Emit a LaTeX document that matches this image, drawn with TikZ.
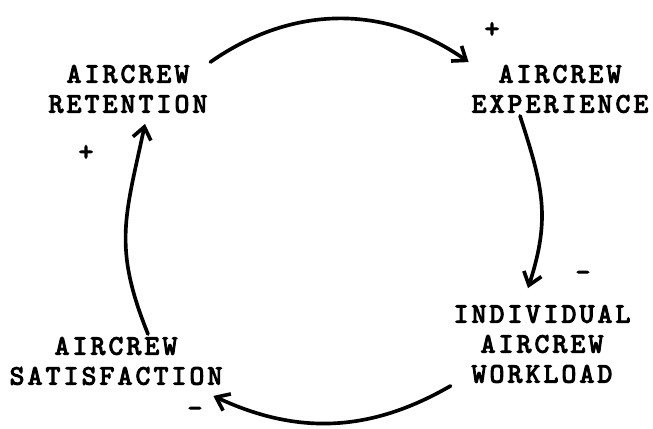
\documentclass[tikz,border=0pt]{standalone}
\usepackage{fontspec}
\setmonofont{lmmono10-regular.otf}[LetterSpace=11.8,FakeBold=4]
\usepackage{tikz}
\usetikzlibrary{arrows.meta,positioning,calc}
\tikzset{
  factor/.style={align=center,inner sep=2pt,font=\ttfamily\fontsize{19.9}{21.3}\selectfont},
  polarity/.style={inner sep=0pt,font=\ttfamily\fontsize{19.9}{21.3}\selectfont},
  link/.style={-{Straight Barb[length=3mm,width=4.6mm]},line width=2.6pt,line cap=round}
}

\begin{document}
\begin{tikzpicture}
    \useasboundingbox (0,0) rectangle (16.325,10.7);

    \node[factor] (ret) at (3.2,8.475) {AIRCREW\\RETENTION};
    \node[factor] (exp) at (14.0,8.475) {AIRCREW\\EXPERIENCE};
    \node[factor] (work) at (13.55,2.1) {INDIVIDUAL\\AIRCREW\\WORKLOAD};
    \node[factor] (sat) at (2.9,1.675) {AIRCREW\\SATISFACTION};

    \node[polarity] (p1) at (12.3,9.95) {+};
    \node[polarity] (p2) at (2.15,6.875) {+};
    \node[polarity] (m1) at (14.575,3.8) {-};
    \node[polarity] (m2) at (4.875,0.4) {-};

    \draw[link] (ret.north east) to[out=35,in=145] (exp.north west);
    \draw[link] ([xshift=-1cm]exp.south) to[out=-72,in=72,looseness=1.1] ([xshift=-0.35cm,yshift=0.35cm]work.north);
    \draw[link] (work.south west) to[out=-150,in=-25] ([xshift=-0.3cm,yshift=-0.2cm]sat.south east);
    \draw[link] ([xshift=0.8cm]sat.north) to[out=112,in=-102,looseness=1.15] ([xshift=0.425cm,yshift=-0.2cm]ret.south);
\end{tikzpicture}
\end{document}
